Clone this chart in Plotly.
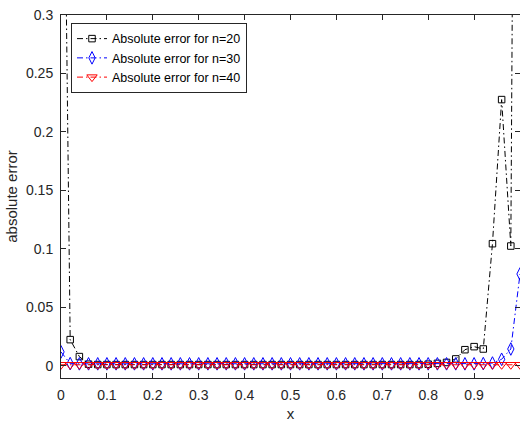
import plotly.graph_objects as go

# evaluation points 0:0.02:1
x_pts = [0.00, 0.02, 0.04, 0.06, 0.08, 0.10, 0.12, 0.14, 0.16, 0.18,
         0.20, 0.22, 0.24, 0.26, 0.28, 0.30, 0.32, 0.34, 0.36, 0.38,
         0.40, 0.42, 0.44, 0.46, 0.48, 0.50, 0.52, 0.54, 0.56, 0.58,
         0.60, 0.62, 0.64, 0.66, 0.68, 0.70, 0.72, 0.74, 0.76, 0.78,
         0.80, 0.82, 0.84, 0.86, 0.88, 0.90, 0.92, 0.94, 0.96, 0.98, 1.00]

err_n20 = [0.70, 0.0225, 0.0080, 0.0015, 0.0012, 0.0012, 0.0012, 0.0012, 0.0012, 0.0012,
           0.0012, 0.0012, 0.0012, 0.0012, 0.0012, 0.0012, 0.0012, 0.0012, 0.0012, 0.0012,
           0.0012, 0.0012, 0.0012, 0.0012, 0.0012, 0.0012, 0.0012, 0.0012, 0.0012, 0.0012,
           0.0012, 0.0012, 0.0012, 0.0012, 0.0012, 0.0012, 0.0012, 0.0012, 0.0012, 0.0012,
           0.0015, 0.0022, 0.0030, 0.0060, 0.0139, 0.0165, 0.0145, 0.1045, 0.2277, 0.1025, 1.40]

err_n30 = [0.0120, 0.0020, 0.0018, 0.0018, 0.0018, 0.0018, 0.0018, 0.0018, 0.0018, 0.0018,
           0.0018, 0.0018, 0.0018, 0.0018, 0.0018, 0.0018, 0.0018, 0.0018, 0.0018, 0.0018,
           0.0018, 0.0018, 0.0018, 0.0018, 0.0018, 0.0018, 0.0018, 0.0018, 0.0018, 0.0018,
           0.0018, 0.0018, 0.0018, 0.0018, 0.0018, 0.0018, 0.0018, 0.0018, 0.0018, 0.0018,
           0.0018, 0.0018, 0.0018, 0.0018, 0.0018, 0.0018, 0.0020, 0.0025, 0.0057, 0.0145, 0.0786]

err_n40 = [0.0010, 0.0010, 0.0010, 0.0010, 0.0010, 0.0010, 0.0010, 0.0010, 0.0010, 0.0010,
           0.0010, 0.0010, 0.0010, 0.0010, 0.0010, 0.0010, 0.0010, 0.0010, 0.0010, 0.0010,
           0.0010, 0.0010, 0.0010, 0.0010, 0.0010, 0.0010, 0.0010, 0.0010, 0.0010, 0.0010,
           0.0010, 0.0010, 0.0010, 0.0010, 0.0010, 0.0010, 0.0010, 0.0010, 0.0010, 0.0010,
           0.0010, 0.0010, 0.0010, 0.0010, 0.0010, 0.0010, 0.0010, 0.0010, 0.0010, 0.0010, 0.0010]

series_names = ["Absolute error for n=20", "Absolute error for n=30", "Absolute error for n=40"]
x_ticks = [0, 0.1, 0.2, 0.3, 0.4, 0.5, 0.6, 0.7, 0.8, 0.9, 1]
y_ticks = [0, 0.05, 0.1, 0.15, 0.2, 0.25, 0.3]

FONT = "Liberation Sans, Arial, Helvetica, sans-serif"
AX = "#262626"
DASH = "6px,3px,1.5px,3px"

fig = go.Figure()
fig.add_trace(go.Scatter(
    x=x_pts, y=err_n20, name=series_names[0], mode="lines+markers",
    line=dict(color="black", width=1, dash=DASH),
    marker=dict(symbol="square-open", size=6.5, color="black", line=dict(width=1))))
fig.add_trace(go.Scatter(
    x=x_pts, y=err_n30, name=series_names[1], mode="lines+markers",
    line=dict(color="blue", width=1, dash=DASH),
    marker=dict(symbol="diamond-tall-open", size=9, color="blue", line=dict(width=1))))
fig.add_trace(go.Scatter(
    x=x_pts, y=err_n40, name=series_names[2], mode="lines+markers",
    line=dict(color="red", width=1, dash=DASH),
    marker=dict(symbol="triangle-down-open", size=9, color="red", line=dict(width=1))))

fig.update_layout(
    width=520, height=423,
    margin=dict(l=61, r=0, t=15, b=45, autoexpand=False),
    paper_bgcolor="white", plot_bgcolor="white",
    font=dict(family=FONT, size=14, color=AX),
    showlegend=True,
    legend=dict(
        x=0.0218, y=0.978, xref="paper", yref="paper",
        xanchor="left", yanchor="top",
        bgcolor="white", bordercolor=AX, borderwidth=1,
        font=dict(family=FONT, size=12.5, color="black"),
        tracegroupgap=0, itemwidth=30,
    ),
    xaxis=dict(
        range=[0, 1], tickvals=x_ticks, ticks="inside", ticklen=5, tickcolor=AX,
        showline=True, linecolor=AX, linewidth=1, mirror="ticks",
        showgrid=False, zeroline=False, ticklabelstandoff=4,
        title=dict(text="x", font=dict(size=15, color=AX), standoff=6),
        tickfont=dict(size=14, color=AX), automargin=False,
    ),
    yaxis=dict(
        range=[-0.0103, 0.3], tickvals=y_ticks, ticks="inside", ticklen=5, tickcolor=AX,
        showline=True, linecolor=AX, linewidth=1, mirror="ticks",
        showgrid=False, zeroline=False, ticklabelstandoff=4,
        title=dict(text="absolute error", font=dict(size=15, color=AX), standoff=4),
        tickfont=dict(size=14, color=AX), automargin=False,
    ),
)

fig.write_html("out.html")
